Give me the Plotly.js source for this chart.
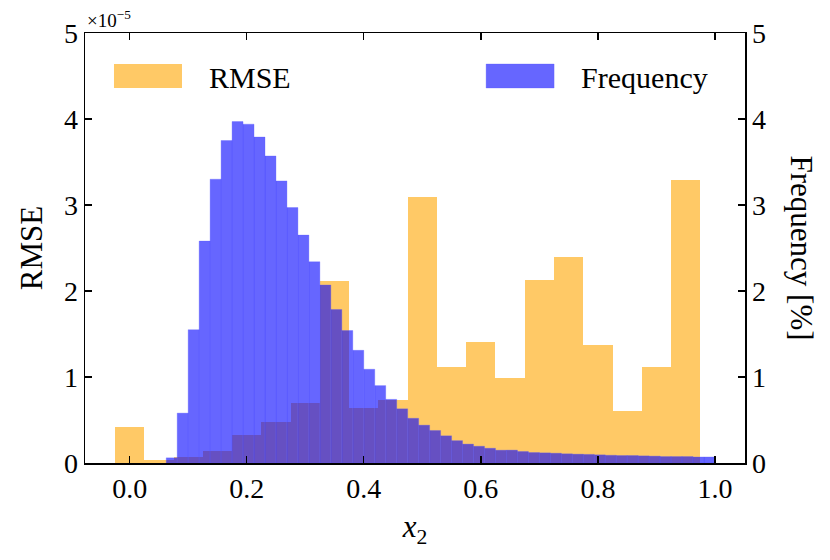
<!DOCTYPE html>
<html>
<head>
<meta charset="utf-8">
<script src="https://cdn.plot.ly/plotly-3.0.1.min.js"></script>
<style>
  html, body { margin: 0; padding: 0; background: #fff; }
  #chart { width: 830px; height: 560px; }
</style>
</head>
<body>
<div id="chart"></div>
<script>
// RMSE per x2 bin (units of 1e-5), bins of width 0.05 centred on these values
var rmseCenters = [0.00, 0.05, 0.10, 0.15, 0.20, 0.25, 0.30, 0.35, 0.40, 0.45,
                   0.50, 0.55, 0.60, 0.65, 0.70, 0.75, 0.80, 0.85, 0.90, 0.95];
var rmseValues = [0.42, 0.03, 0.067, 0.134, 0.33, 0.48, 0.70, 2.12, 0.64, 0.73,
                  3.09, 1.12, 1.405, 0.99, 2.13, 2.40, 1.374, 0.61, 1.12, 3.285];
var rmseWidth = 0.05;

// frequency histogram of x2 [%], 50 bins from 0.0625 to 1.0
var freqStart = 0.0625;
var freqWidth = 0.01875;
var freqValues = [0.06, 0.58, 1.55, 2.58, 3.30, 3.75, 3.97, 3.94, 3.79, 3.57,
                  3.28, 2.97, 2.65, 2.34, 2.07, 1.785, 1.54, 1.31, 1.09, 0.90,
                  0.74, 0.63, 0.52, 0.44, 0.378, 0.316, 0.26, 0.22, 0.195, 0.172,
                  0.149, 0.15, 0.134, 0.122, 0.118, 0.114, 0.107, 0.103, 0.10, 0.095,
                  0.09, 0.087, 0.087, 0.083, 0.08, 0.075, 0.075, 0.075, 0.07, 0.07];

var xTicks = [0.0, 0.2, 0.4, 0.6, 0.8, 1.0];
var yTicks = [0, 1, 2, 3, 4, 5];

var freqCenters = [];
for (var i = 0; i < freqValues.length; i++) {
    freqCenters.push(freqStart + freqWidth * (i + 0.5));
}

var FONT = "Liberation Serif, Times New Roman, serif";

var rmseTrace = {
    type: 'bar',
    name: 'RMSE',
    x: rmseCenters,
    y: rmseValues,
    width: rmseWidth,
    marker: {color: 'rgba(255,165,0,0.6)', line: {width: 0}},
    legend: 'legend',
    hoverinfo: 'skip'
};

var freqTrace = {
    type: 'bar',
    name: 'Frequency',
    x: freqCenters,
    y: freqValues,
    width: freqWidth,
    yaxis: 'y2',
    marker: {color: 'rgba(0,0,255,0.6)', line: {width: 0.6, color: 'rgba(90,90,255,0.5)'}},
    legend: 'legend2',
    hoverinfo: 'skip'
};

var axisCommon = {
    showgrid: false,
    zeroline: false,
    showline: true,
    linecolor: '#000',
    linewidth: 1.5,
    ticks: 'inside',
    ticklen: 7,
    tickwidth: 1.3,
    tickcolor: '#000',
    tickfont: {family: FONT, size: 28, color: '#000'}
};

var legendFont = {family: FONT, size: 30, color: '#000'};

var layout = {
    width: 830,
    height: 560,
    margin: {l: 85, r: 85, t: 33, b: 97, pad: 0},
    paper_bgcolor: '#fff',
    plot_bgcolor: '#fff',
    font: {family: FONT, size: 28, color: '#000'},
    barmode: 'overlay',
    bargap: 0,
    showlegend: true,
    xaxis: Object.assign({}, axisCommon, {
        range: [-0.07625, 1.05125],
        tickvals: xTicks,
        tickformat: '.1f',
        mirror: 'ticks',
        title: {text: '<i>x</i><sub>2</sub>', font: {family: FONT, size: 31}, standoff: 12}
    }),
    yaxis: Object.assign({}, axisCommon, {
        range: [0, 5],
        tickvals: yTicks,
        mirror: true,
        title: {text: 'RMSE', font: {family: FONT, size: 31}, standoff: 12}
    }),
    yaxis2: Object.assign({}, axisCommon, {
        range: [0, 5],
        tickvals: yTicks,
        overlaying: 'y',
        side: 'right'
    }),
    legend: {
        x: 0.0212, y: 0.9, xanchor: 'left', yanchor: 'middle',
        bgcolor: 'rgba(0,0,0,0)', borderwidth: 0,
        font: legendFont,
        itemwidth: 100
    },
    legend2: {
        x: 0.585, y: 0.9, xanchor: 'left', yanchor: 'middle',
        bgcolor: 'rgba(0,0,0,0)', borderwidth: 0,
        font: legendFont,
        itemwidth: 100
    },
    annotations: [
        {xref: 'paper', yref: 'paper', x: 0, y: 1, xanchor: 'left', yanchor: 'bottom',
         text: '×10<sup>−5</sup>', showarrow: false, font: {family: FONT, size: 19, color: '#000'}, yshift: 0},
        {xref: 'paper', yref: 'paper', x: 1, y: 0.5, xanchor: 'left', yanchor: 'middle',
         xshift: 37, text: 'Frequency [%]', textangle: 90, showarrow: false,
         font: {family: FONT, size: 31, color: '#000'}}
    ]
};

Plotly.newPlot('chart', [rmseTrace, freqTrace], layout, {displayModeBar: false, staticPlot: true}).then(function () {
    // widen the legend patches like matplotlib's
    var paths = document.querySelectorAll('g.legendpoints path');
    paths.forEach(function (p) {
        p.setAttribute('d', 'M-40,-12H28V12H-40Z');
    });
});
</script>
</body>
</html>
